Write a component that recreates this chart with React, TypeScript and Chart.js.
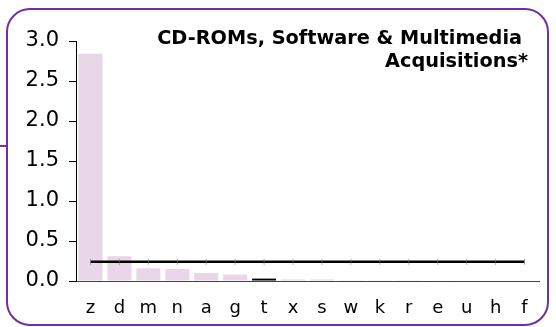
import React, { useEffect, useRef } from "react";
import { Chart, registerables } from "chart.js";

Chart.register(...registerables);

const categories = ["z", "d", "m", "n", "a", "g", "t", "x", "s", "w", "k", "r", "e", "u", "h", "f"];
const values = [2.84, 0.31, 0.16, 0.15, 0.1, 0.08, 0.03, 0.02, 0.02, 0.01, 0.01, 0.01, 0.005, 0, 0, 0];
const averageValue = 0.24;
const averageLine = categories.map(() => averageValue);
const highlighted = "t";
const titleLines = ["CD-ROMs, Software & Multimedia", "Acquisitions*"];

const FONT = "'DejaVu Sans', Verdana, sans-serif";

export default function App() {
  const ref = useRef<HTMLCanvasElement | null>(null);

  useEffect(() => {
    if (!ref.current) return;
    const titlePlugin = {
      id: "cornerTitle",
      afterDraw(chart: any) {
        const ctx = chart.ctx;
        ctx.save();
        ctx.font = `bold 19.3px ${FONT}`;
        ctx.fillStyle = "#000";
        ctx.textAlign = "right";
        ctx.textBaseline = "alphabetic";
        ctx.fillText(titleLines[0], 522, 44);
        ctx.fillText(titleLines[1], 528, 67);
        ctx.restore();
      },
    };
    const chart = new Chart(ref.current, {
      type: "bar",
      data: {
        labels: categories,
        datasets: [
          {
            type: "line",
            data: averageLine,
            borderColor: "#000",
            borderWidth: 2.5,
            pointStyle: "line",
            rotation: 90,
            pointRadius: 3,
            pointBorderColor: "rgba(120,120,120,0.6)",
            pointBorderWidth: 1,
            order: 0,
          } as any,
          {
            type: "bar",
            data: values,
            backgroundColor: categories.map((c) => (c === highlighted ? "#000" : "#E9D7E9")),
            categoryPercentage: 0.83,
            barPercentage: 1,
            order: 1,
          },
        ],
      },
      options: {
        animation: false,
        responsive: false,
        maintainAspectRatio: false,
        layout: { padding: { left: 0, right: 17, top: 41, bottom: 0 } },
        plugins: { legend: { display: false }, tooltip: { enabled: false }, title: { display: false } },
        scales: {
          x: {
            grid: { display: false },
            border: { display: true, color: "#444", width: 1 },
            ticks: { font: { family: FONT, size: 18 }, color: "#000", padding: 9 },
            afterFit(scale: any) {
              scale.height = 46;
            },
          },
          y: {
            min: 0,
            max: 3,
            ticks: {
              stepSize: 0.5,
              font: { family: FONT, size: 21 },
              color: "#000",
              padding: 10,
              callback: (v: any) => Number(v).toFixed(1),
            },
            grid: { drawOnChartArea: false, tickLength: 7, color: "#000" },
            border: { display: true, color: "#000", width: 1 },
            afterFit(scale: any) {
              scale.width = 76;
            },
          },
        },
      },
      plugins: [titlePlugin],
    });
    return () => chart.destroy();
  }, []);

  return (
    <div style={{ position: "fixed", left: 0, top: 0, width: 556, height: 327, background: "#fff", overflow: "hidden" }}>
      <div
        style={{
          position: "absolute",
          left: 6,
          top: 8,
          width: 543,
          height: 318,
          border: "2px solid #7030A0",
          borderRadius: 24,
          boxSizing: "border-box",
        }}
      />
      <div style={{ position: "absolute", left: 0, top: 145, width: 8, height: 2, background: "#7030A0" }} />
      <canvas ref={ref} width={556} height={327} style={{ position: "absolute", left: 0, top: 0 }} />
    </div>
  );
}
